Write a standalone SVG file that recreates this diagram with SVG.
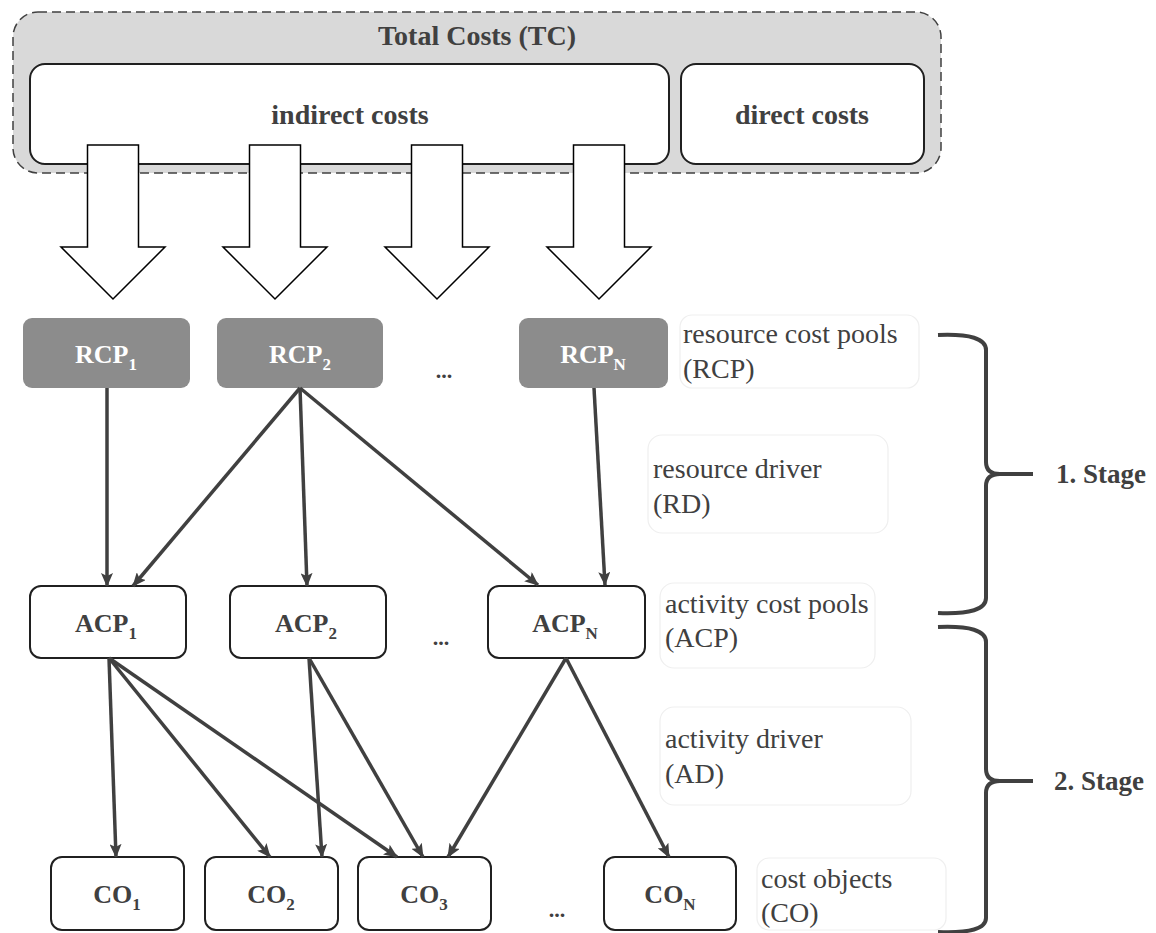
<svg xmlns="http://www.w3.org/2000/svg" width="1156" height="933" viewBox="0 0 1156 933">
<defs>
<style>
.bold{font-family:"Liberation Serif","Times New Roman",serif;font-weight:bold;fill:#404040;}
.reg{font-family:"Liberation Serif","Times New Roman",serif;fill:#404040;font-size:28px;}
.box{fill:#ffffff;stroke:#202020;stroke-width:2;}
.rcp{fill:#8c8c8c;stroke:none;}
.lbl{fill:#ffffff;stroke:#efefef;stroke-width:1.2;}
.blk{fill:#ffffff;stroke:#000000;stroke-width:1.5;}
.conn{stroke:#404040;stroke-width:3.5;fill:none;marker-end:url(#ah);}
.brace{stroke:#404040;stroke-width:4;fill:none;}
</style>
<marker id="ah" viewBox="0 0 14 12" refX="13" refY="6" markerWidth="14" markerHeight="12" markerUnits="userSpaceOnUse" orient="auto">
<path d="M0,0 L14,6 L0,12 L3,6 z" fill="#404040"/>
</marker>
</defs>
<rect width="1156" height="933" fill="#ffffff"/>

<g id="total-costs">
<rect x="13" y="12" width="928" height="161" rx="25" fill="#d9d9d9" stroke="#404040" stroke-width="1.5" stroke-dasharray="9,5"/>
<text class="bold" x="477" y="45" font-size="28" text-anchor="middle">Total Costs (TC)</text>
</g>
<g id="indirect-costs">
<rect class="box" x="30" y="64" width="639" height="100" rx="15" stroke="#404040"/>
<text class="bold" x="350" y="124" font-size="28" text-anchor="middle">indirect costs</text>
</g>
<g id="direct-costs">
<rect class="box" x="681" y="64" width="243" height="100" rx="15" stroke="#404040"/>
<text class="bold" x="802" y="124" font-size="28" text-anchor="middle">direct costs</text>
</g>

<g id="block-arrows">
<polygon class="blk" points="87.5,145 138.5,145 138.5,247 165,247 113,299 61,247 87.5,247"/>
<polygon class="blk" points="249.5,145 300.5,145 300.5,247 327,247 275,299 223,247 249.5,247"/>
<polygon class="blk" points="411.5,145 462.5,145 462.5,247 489,247 437,299 385,247 411.5,247"/>
<polygon class="blk" points="573.5,145 624.5,145 624.5,247 651,247 599,299 547,247 573.5,247"/>
</g>

<g id="rcp1">
<rect class="rcp" x="23" y="318" width="167" height="70" rx="9"/>
<text class="bold" x="106" y="363" font-size="26" style="fill:#ffffff" text-anchor="middle">RCP<tspan font-size="17" dy="7">1</tspan></text>
</g>
<g id="rcp2">
<rect class="rcp" x="217" y="318" width="166" height="70" rx="9"/>
<text class="bold" x="300" y="363" font-size="26" style="fill:#ffffff" text-anchor="middle">RCP<tspan font-size="17" dy="7">2</tspan></text>
</g>
<g id="rcp-dots">
<text class="bold" x="444" y="378" font-size="22" text-anchor="middle">...</text>
</g>
<g id="rcpn">
<rect class="rcp" x="519" y="318" width="149" height="70" rx="9"/>
<text class="bold" x="593" y="363" font-size="26" style="fill:#ffffff" text-anchor="middle">RCP<tspan font-size="17" dy="7">N</tspan></text>
</g>

<g id="label-rcp">
<rect class="lbl" x="680" y="315" width="239" height="73" rx="12"/>
<text class="reg" x="683" y="343">resource cost pools</text>
<text class="reg" x="683" y="378">(RCP)</text>
</g>
<g id="label-rd">
<rect class="lbl" x="648" y="435" width="240" height="98" rx="14"/>
<text class="reg" x="653" y="478">resource driver</text>
<text class="reg" x="653" y="513">(RD)</text>
</g>
<g id="label-acp">
<rect class="lbl" x="660" y="583" width="215" height="85" rx="14"/>
<text class="reg" x="665" y="613">activity cost pools</text>
<text class="reg" x="665" y="647">(ACP)</text>
</g>
<g id="label-ad">
<rect class="lbl" x="660" y="707" width="251" height="98" rx="14"/>
<text class="reg" x="665" y="748">activity driver</text>
<text class="reg" x="665" y="783">(AD)</text>
</g>
<g id="label-co">
<rect class="lbl" x="757" y="858" width="189" height="72" rx="12"/>
<text class="reg" x="761" y="888">cost objects</text>
<text class="reg" x="761" y="922">(CO)</text>
</g>

<g id="acp1">
<rect class="box" x="30" y="586" width="156" height="72" rx="11"/>
<text class="bold" x="106" y="632" font-size="26" text-anchor="middle">ACP<tspan font-size="17" dy="7">1</tspan></text>
</g>
<g id="acp2">
<rect class="box" x="230" y="586" width="156" height="72" rx="11"/>
<text class="bold" x="306" y="632" font-size="26" text-anchor="middle">ACP<tspan font-size="17" dy="7">2</tspan></text>
</g>
<g id="acp-dots">
<text class="bold" x="441" y="645" font-size="22" text-anchor="middle">...</text>
</g>
<g id="acpn">
<rect class="box" x="488" y="586" width="157" height="72" rx="11"/>
<text class="bold" x="565" y="632" font-size="26" text-anchor="middle">ACP<tspan font-size="17" dy="7">N</tspan></text>
</g>

<g id="co1">
<rect class="box" x="51" y="857" width="133" height="73" rx="11"/>
<text class="bold" x="117" y="903" font-size="26" text-anchor="middle">CO<tspan font-size="17" dy="7">1</tspan></text>
</g>
<g id="co2">
<rect class="box" x="205" y="857" width="133" height="73" rx="11"/>
<text class="bold" x="271" y="903" font-size="26" text-anchor="middle">CO<tspan font-size="17" dy="7">2</tspan></text>
</g>
<g id="co3">
<rect class="box" x="358" y="857" width="133" height="73" rx="11"/>
<text class="bold" x="424" y="903" font-size="26" text-anchor="middle">CO<tspan font-size="17" dy="7">3</tspan></text>
</g>
<g id="co-dots">
<text class="bold" x="557" y="917" font-size="22" text-anchor="middle">...</text>
</g>
<g id="con">
<rect class="box" x="604" y="857" width="132" height="73" rx="11"/>
<text class="bold" x="670" y="903" font-size="26" text-anchor="middle">CO<tspan font-size="17" dy="7">N</tspan></text>
</g>

<g id="connectors">
<line class="conn" x1="107" y1="388" x2="107" y2="586"/>
<line class="conn" x1="300" y1="388" x2="133" y2="586"/>
<line class="conn" x1="300" y1="388" x2="307" y2="586"/>
<line class="conn" x1="300" y1="388" x2="538" y2="585"/>
<line class="conn" x1="594" y1="388" x2="605" y2="585"/>
<line class="conn" x1="109" y1="658" x2="116" y2="857"/>
<line class="conn" x1="109" y1="658" x2="270" y2="857"/>
<line class="conn" x1="109" y1="658" x2="397" y2="857"/>
<line class="conn" x1="309" y1="658" x2="322" y2="857"/>
<line class="conn" x1="309" y1="658" x2="423" y2="857"/>
<line class="conn" x1="566" y1="658" x2="448" y2="857"/>
<line class="conn" x1="566" y1="658" x2="669" y2="857"/>
</g>

<g id="stage1">
<path class="brace" d="M938,335 Q986,333 986,350 L986,462 Q986,474 1000,474 L1033,474 L1000,474 Q986,474 986,486 L986,598 Q986,615 938,613"/>
<text class="bold" x="1056" y="483" font-size="27">1. Stage</text>
</g>
<g id="stage2">
<path class="brace" d="M938,627 Q986,625 986,642 L986,769 Q986,781 1000,781 L1033,781 L1000,781 Q986,781 986,793 L986,918 Q986,934 938,932"/>
<text class="bold" x="1054" y="790" font-size="27">2. Stage</text>
</g>
</svg>
